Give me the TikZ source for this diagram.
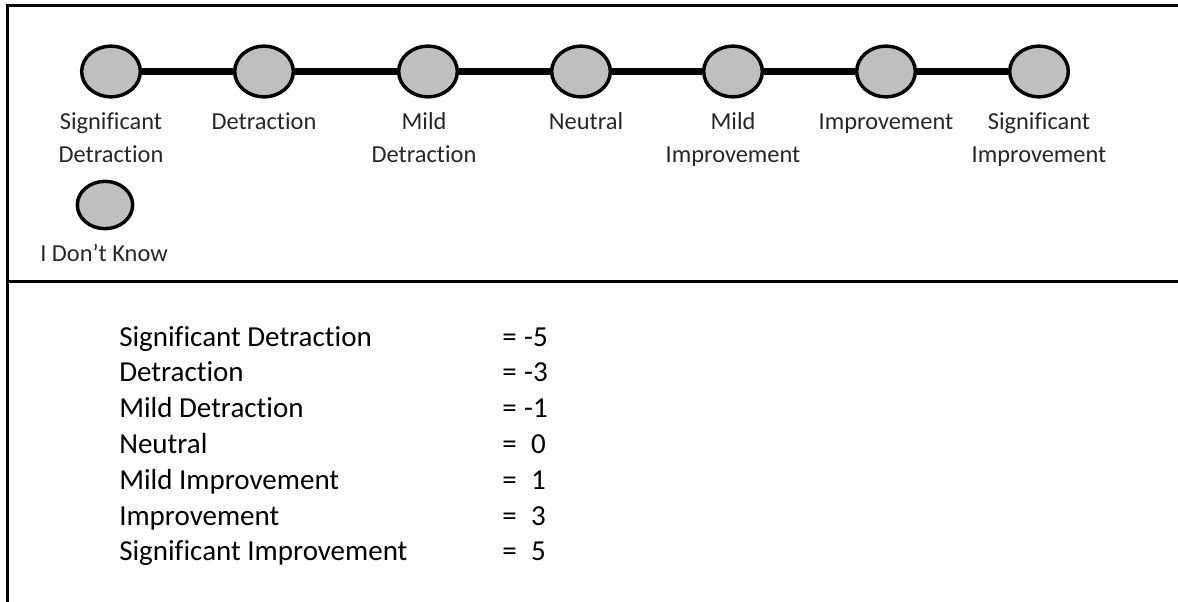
\documentclass[tikz,border=0pt]{standalone}
\usepackage{fontspec}
\setmainfont{Carlito}[Ligatures=NoCommon]
\usetikzlibrary{shapes.geometric}
\definecolor{dotgray}{HTML}{BFBFBF}
\definecolor{labtext}{HTML}{262626}
\tikzset{
  dot/.style={ellipse, draw=black, line width=2.6pt, fill=dotgray, minimum width=44pt, minimum height=38pt, inner sep=0pt},
  dotsmall/.style={dot, minimum width=41.5pt, minimum height=35.5pt},
  conn/.style={line width=5pt},
  lab/.style={anchor=base, align=center, text=labtext, inner sep=0pt, font=\fontsize{18.3}{24.75}\selectfont},
  rowtext/.style={anchor=base west, inner sep=0pt, font=\fontsize{21.75}{26}\selectfont},
  rowval/.style={anchor=base east, inner sep=0pt, font=\fontsize{21.75}{26}\selectfont},
  frame/.style={line width=1.6pt},
  divider/.style={line width=2.3pt}
}
\begin{document}
\begin{tikzpicture}[x=0.75pt,y=-0.75pt]
\useasboundingbox (0,0) rectangle (1178,602);
% frame
\coordinate (tl) at (7.5,5.5);
\coordinate (tr) at (1178,5.5);
\coordinate (bl) at (7.5,602);
\coordinate (ml) at (7.5,281.5);
\coordinate (mr) at (1178,281.5);
\draw[frame] (tr) -- (tl) -- (bl);
\draw[divider] (ml) -- (mr);
% scale
\node[dot] (n1) at (111,71.5) {};
\node[dot] (n2) at (264,71.5) {};
\node[dot] (n3) at (428,71.5) {};
\node[dot] (n4) at (581,71.5) {};
\node[dot] (n5) at (733,71.5) {};
\node[dot] (n6) at (886,71.5) {};
\node[dot] (n7) at (1039,71.5) {};
\draw[conn] (n1) -- (n2);
\draw[conn] (n2) -- (n3);
\draw[conn] (n3) -- (n4);
\draw[conn] (n4) -- (n5);
\draw[conn] (n5) -- (n6);
\draw[conn] (n6) -- (n7);
% two-line labels: base anchor is the last line's baseline
\node[lab] (l1) at (111,163) {Significant\\Detraction};
\node[lab] (l2) at (264,130) {Detraction};
\node[lab] (l3) at (424,163) {Mild\\Detraction};
\node[lab] (l4) at (586,130) {Neutral};
\node[lab] (l5) at (733,163) {Mild\\Improvement};
\node[lab] (l6) at (886,130) {Improvement};
\node[lab] (l7) at (1039,163) {Significant\\Improvement};
\node[dotsmall] (dk) at (105,205) {};
\node[lab] (ldk) at (104,262) {I Don’t Know};
% values
\node[rowtext] (r1) at (119,346) {Significant Detraction};
\node[rowtext] (r2) at (119,381.8) {Detraction};
\node[rowtext] (r3) at (119,417.6) {Mild Detraction};
\node[rowtext] (r4) at (119,453.4) {Neutral};
\node[rowtext] (r5) at (119,489.2) {Mild Improvement};
\node[rowtext] (r6) at (119,525) {Improvement};
\node[rowtext] (r7) at (119,560.8) {Significant Improvement};
\node[rowtext] (e1) at (502,346) {=};
\node[rowtext] (e2) at (502,381.8) {=};
\node[rowtext] (e3) at (502,417.6) {=};
\node[rowtext] (e4) at (502,453.4) {=};
\node[rowtext] (e5) at (502,489.2) {=};
\node[rowtext] (e6) at (502,525) {=};
\node[rowtext] (e7) at (502,560.8) {=};
\node[rowval] (v1) at (548,346) {-5};
\node[rowval] (v2) at (548,381.8) {-3};
\node[rowval] (v3) at (548,417.6) {-1};
\node[rowval] (v4) at (546,453.4) {0};
\node[rowval] (v5) at (546,489.2) {1};
\node[rowval] (v6) at (546,525) {3};
\node[rowval] (v7) at (546,560.8) {5};
\end{tikzpicture}
\end{document}
